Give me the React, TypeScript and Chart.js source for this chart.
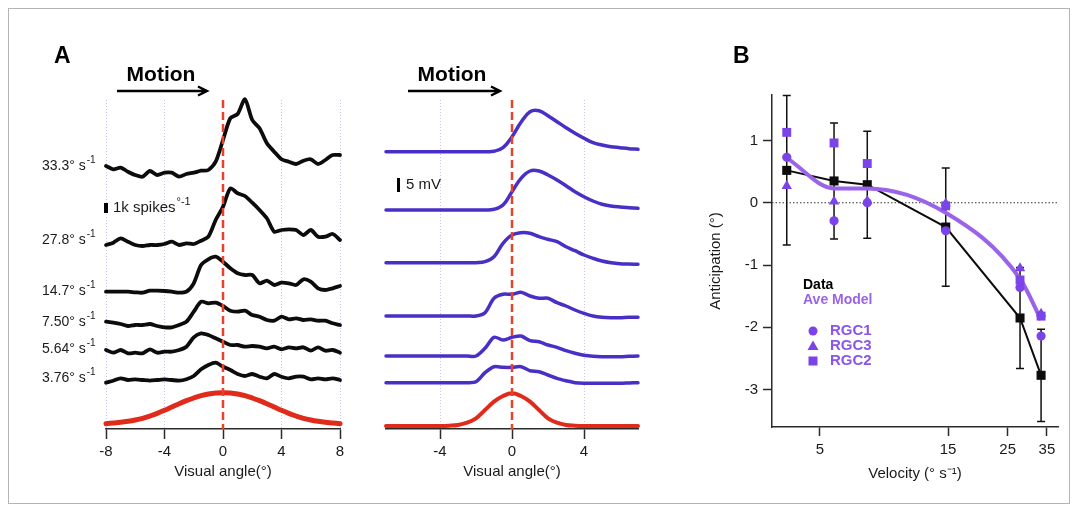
import React, { useEffect, useRef } from 'react';
import { Chart, registerables } from 'chart.js';

Chart.register(...registerables);

const FONT = '"Liberation Sans", Arial, Helvetica, sans-serif';

// ---------- Panel A, recorded responses (height above axis, display units) ----------
const recAngles = [-8, -7.5, -7, -6.5, -6, -5.5, -5, -4.5, -4, -3.5, -3, -2.5, -2, -1.5, -1, -0.5, 0, 0.5, 1, 1.5, 2, 2.5, 3, 3.5, 4, 4.5, 5, 5.5, 6, 6.5, 7, 7.5, 8];
const rec33 = [263, 259.7, 261.3, 257.3, 254, 252.3, 258, 254, 256.3, 256.3, 252.3, 255, 256.3, 258.3, 259, 267.3, 289, 310.7, 315, 329.7, 309, 300.7, 285.7, 277.3, 269.7, 267.3, 265, 268.3, 269.7, 265, 269, 274, 274];
const rec27 = [184, 186.3, 190.7, 187.3, 184, 183, 184, 184, 185, 187.3, 184, 185.7, 185, 188.3, 192.3, 209, 222.3, 240.7, 235.7, 233, 226.3, 219, 210.7, 197.3, 199, 199.7, 199, 194, 199, 192.3, 192.3, 195, 189];
const rec14 = [137.3, 137.3, 137.3, 137.3, 136.7, 136.3, 138.3, 138.3, 138, 137.3, 136.3, 137.3, 145.7, 164, 169.7, 172.3, 167.3, 160.7, 155.7, 154, 154, 145.7, 148.3, 144, 146.3, 145.7, 144, 149.7, 147.3, 140.7, 139, 140.7, 143];
const rec7 = [107.3, 106.3, 105, 103, 104, 104, 105, 103, 101.7, 101.7, 104, 107.3, 117.3, 127.3, 125.7, 126.3, 123, 118.3, 117.3, 118.3, 114, 112.3, 109, 108.3, 112.3, 109.7, 110.7, 109, 109.7, 108.3, 108.3, 105.7, 104];
const rec5 = [79, 76.3, 79, 75.7, 76.3, 75.7, 79.7, 76.3, 77.3, 77.3, 79, 82.3, 91.7, 95.7, 94, 90.7, 87.3, 84, 84, 82.3, 83, 82.3, 80.7, 82.3, 79.7, 81.7, 80.7, 81.7, 78.3, 81.7, 78.3, 79, 76.3];
const rec3 = [46.3, 48.3, 50.7, 49, 49.7, 49, 48.3, 49, 49.7, 49, 48.3, 49.7, 53, 59.7, 64, 66.3, 62.3, 59, 55, 53, 55, 52.3, 50.7, 55, 52.3, 50.7, 52.3, 52.3, 49.7, 50.7, 49.7, 50.7, 49];
const recStim = [5.3, 6, 6.7, 7.7, 9, 10.7, 13, 15.7, 18.7, 22, 25.3, 28.3, 31, 33.3, 35, 36, 36.3, 36, 35, 33.3, 31, 28.3, 25.3, 22, 18.7, 15.7, 13, 10.7, 9, 7.7, 6.7, 6, 5.3];
const recTicks = [-8, -4, 0, 4, 8];

// ---------- Panel A, model responses ----------
const modAngles = [-7, -6.5, -6, -5.5, -5, -4.5, -4, -3.5, -3, -2.5, -2, -1.5, -1, -0.5, 0, 0.5, 1, 1.5, 2, 2.5, 3, 3.5, 4, 4.5, 5, 5.5, 6, 6.5, 7];
const mod33 = [277.3, 277.3, 277.3, 277.3, 277.3, 277.3, 277.3, 277.3, 277.3, 277.3, 277.3, 277.3, 277.7, 281.3, 292.3, 306.7, 317.3, 318.3, 313.3, 307.3, 301.3, 295.7, 290.7, 286.3, 284, 282.3, 281.3, 280.3, 279.7];
const mod27 = [219, 219, 219, 219, 219, 219, 219, 219, 219, 219, 219, 219, 219.7, 224, 237.3, 250.7, 258, 258, 254, 249, 243.3, 237.3, 232.3, 228, 224.7, 223, 222, 221.3, 220.7];
const mod14 = [166.3, 166.3, 166.3, 166.3, 166.3, 166.3, 166.3, 166.3, 166.3, 166.3, 166.3, 167.3, 172.3, 185.7, 194, 196.3, 195.7, 192.3, 189.7, 187.3, 182.3, 178.3, 174, 170.7, 168, 166.3, 165.3, 165, 164.7];
const mod7 = [113, 113, 113, 113, 113, 113, 113, 113, 113, 113, 113, 116.3, 130.7, 134.7, 134.7, 136.7, 133, 130.7, 130.7, 126.3, 123, 119, 115.7, 113, 111.7, 111.3, 111.3, 111.7, 111.7];
const mod5 = [73, 73, 73, 73, 73, 73, 73, 73, 73, 73, 73, 80.7, 91.7, 89, 91.7, 93, 88.3, 87.3, 84, 81.7, 78.3, 75.7, 73.7, 72.7, 72.3, 72.3, 72.3, 72.7, 73];
const mod3 = [46.3, 46.3, 46.3, 46.3, 46.3, 46.3, 46.3, 46.3, 46.3, 46.3, 47.3, 56.3, 62.3, 61.7, 61.7, 62.3, 58.3, 57.3, 54, 50.7, 48.3, 46.3, 45.7, 45.7, 45.7, 45.7, 45.7, 46, 46.3];
const modStim = [3, 3, 3, 3, 3, 3, 3, 3.3, 4, 6.3, 10.7, 19, 27.3, 33, 35.7, 33, 27.3, 19, 10.7, 6.3, 4, 3.3, 3, 3, 3, 3, 3, 3, 3];
const modTicks = [-4, 0, 4];

const velocityLabels = ['33.3', '27.8', '14.7', '7.50', '5.64', '3.76'];

// ---------- Panel B ----------
const velocities = [3.76, 5.64, 7.5, 14.7, 27.8, 33.3];
const dataMean = [0.52, 0.35, 0.29, -0.39, -1.85, -2.77];
const dataErr = [1.2, 0.93, 0.86, 0.95, 0.81, 0.74];
const modelMean = [0.72, 0.23, 0.23, -0.16, -1.22, -1.88];
const rgc1 = [0.73, -0.29, 0.0, -0.45, -1.36, -2.14];
const rgc3 = [0.27, 0.02, 0.03, -0.01, -1.05, -1.78];
const rgc2 = [1.13, 0.96, 0.63, -0.05, -1.24, -1.82];
const velTicks = [5, 15, 25, 35];
const antTicks = [-3, -2, -1, 0, 1];

// ---------- colours ----------
const BLACK = '#0c0c0c';
const MODEL_TRACE = '#4a2fc6';
const RED = '#e02b1b';
const DASH_RED = '#e8412c';
const GRID = '#c4c4f2';
const AVE = '#9b63e8';
const RGC = '#7a44e8';
const AXIS = '#2a2a2a';

const pts = (xs: number[], ys: number[]) => xs.map((x, i) => ({ x, y: ys[i] }));

const W = 1078;
const H = 512;

function traceDs(xs: number[], ys: number[], color: string, width: number, tension: number) {
  return {
    data: pts(xs, ys),
    borderColor: color,
    borderWidth: width,
    pointRadius: 0,
    tension,
    clip: false as any,
    fill: false,
    borderCapStyle: 'round' as const,
    borderJoinStyle: 'round' as const,
  };
}

const stimLinePlugin = {
  id: 'stimLine',
  afterDatasetsDraw(chart: any) {
    const { ctx, chartArea } = chart;
    const x = chart.scales.x.getPixelForValue(0);
    ctx.save();
    ctx.strokeStyle = DASH_RED;
    ctx.lineWidth = 2.5;
    ctx.setLineDash([8, 4]);
    ctx.beginPath();
    ctx.moveTo(x, chartArea.top);
    ctx.lineTo(x, chartArea.bottom);
    ctx.stroke();
    ctx.restore();
  },
};

function supText(ctx: CanvasRenderingContext2D, base: string, sup: string, x: number, y: number, size: number, supSize: number) {
  ctx.font = `${size}px ${FONT}`;
  ctx.textBaseline = 'middle';
  ctx.textAlign = 'left';
  ctx.fillText(base, x, y);
  const w = ctx.measureText(base).width;
  ctx.font = `${supSize}px ${FONT}`;
  ctx.fillText(sup, x + w + 1, y - size * 0.42);
}

function arrow(ctx: CanvasRenderingContext2D, x1: number, x2: number, y: number) {
  ctx.save();
  ctx.strokeStyle = '#000';
  ctx.lineWidth = 2.4;
  ctx.beginPath();
  ctx.moveTo(x1, y);
  ctx.lineTo(x2, y);
  ctx.moveTo(x2 - 9, y - 4.5);
  ctx.lineTo(x2, y);
  ctx.lineTo(x2 - 9, y + 4.5);
  ctx.stroke();
  ctx.restore();
}

const decorPlugin = {
  id: 'decor',
  afterDraw(chart: any) {
    const ctx: CanvasRenderingContext2D = chart.ctx;
    ctx.save();
    // frame
    ctx.strokeStyle = '#b4b4b4';
    ctx.lineWidth = 1;
    ctx.strokeRect(8.5, 8.5, 1061, 495);
    ctx.fillStyle = '#000';
    // panel letters
    ctx.font = `bold 23px ${FONT}`;
    ctx.textBaseline = 'alphabetic';
    ctx.textAlign = 'left';
    ctx.fillText('A', 54, 63);
    ctx.fillText('B', 733, 63);
    // Motion titles
    ctx.font = `bold 21px ${FONT}`;
    ctx.textAlign = 'center';
    ctx.textBaseline = 'middle';
    ctx.fillText('Motion', 161, 75);
    ctx.fillText('Motion', 452, 75);
    arrow(ctx, 117, 207, 91);
    arrow(ctx, 408, 500, 91);
    // velocity labels
    ctx.fillStyle = '#1a1a1a';
    const ys = [166, 240, 291, 322, 349, 378];
    velocityLabels.forEach((v, i) => supText(ctx, `${v}° s`, '-1', 42, ys[i], 14, 10));
    // scale bars
    ctx.fillStyle = '#000';
    ctx.fillRect(104, 203, 4, 10);
    ctx.fillStyle = '#1a1a1a';
    supText(ctx, '1k spikes', '°-1', 113, 208, 15, 11);
    ctx.fillStyle = '#000';
    ctx.fillRect(397, 178, 3, 14);
    ctx.fillStyle = '#1a1a1a';
    ctx.font = `15px ${FONT}`;
    ctx.textAlign = 'left';
    ctx.textBaseline = 'middle';
    ctx.fillText('5 mV', 406, 185);
    ctx.restore();
  },
};

function xAxisA(min: number, max: number, ticks: number[]) {
  return {
    type: 'linear' as const,
    min,
    max,
    afterBuildTicks: (s: any) => {
      s.ticks = ticks.map((v) => ({ value: v }));
    },
    afterFit: (s: any) => {
      s.height = 54;
    },
    grid: {
      display: true,
      drawOnChartArea: true,
      drawTicks: true,
      tickLength: 10,
      color: (c: any) => (c.tick && c.tick.value === 0 ? 'rgba(0,0,0,0)' : GRID),
      lineWidth: 1,
      tickColor: AXIS,
      tickWidth: 1.5,
    },
    border: { display: true, color: AXIS, width: 1.5, dash: [1, 2] },
    ticks: { font: { family: FONT, size: 15 }, color: '#1a1a1a', padding: 4, maxRotation: 0 },
    title: { display: true, text: 'Visual angle(°)', font: { family: FONT, size: 15 }, color: '#1a1a1a', padding: { top: 0, bottom: 2 } },
  };
}

function cfgRecorded(): any {
  return {
    type: 'line',
    data: {
      datasets: [
        traceDs(recAngles, rec33, BLACK, 3.8, 0.25),
        traceDs(recAngles, rec27, BLACK, 3.8, 0.25),
        traceDs(recAngles, rec14, BLACK, 3.8, 0.25),
        traceDs(recAngles, rec7, BLACK, 3.8, 0.25),
        traceDs(recAngles, rec5, BLACK, 3.8, 0.25),
        traceDs(recAngles, rec3, BLACK, 3.8, 0.25),
        traceDs(recAngles, recStim, RED, 5, 0.4),
      ],
    },
    options: {
      responsive: false,
      animation: false,
      events: [],
      layout: { padding: { left: 106, right: W - 340, top: 100, bottom: H - 429 - 54 } },
      plugins: { legend: { display: false }, tooltip: { enabled: false } },
      scales: {
        x: xAxisA(-8, 8, recTicks),
        y: { display: false, min: 0, max: 329 },
      },
    },
    plugins: [stimLinePlugin, decorPlugin],
  };
}

function cfgModel(): any {
  return {
    type: 'line',
    data: {
      datasets: [
        traceDs(modAngles, mod33, MODEL_TRACE, 3.5, 0.4),
        traceDs(modAngles, mod27, MODEL_TRACE, 3.5, 0.4),
        traceDs(modAngles, mod14, MODEL_TRACE, 3.5, 0.4),
        traceDs(modAngles, mod7, MODEL_TRACE, 3.5, 0.3),
        traceDs(modAngles, mod5, MODEL_TRACE, 3.5, 0.3),
        traceDs(modAngles, mod3, MODEL_TRACE, 3.5, 0.3),
        traceDs(modAngles, modStim, RED, 4, 0.4),
      ],
    },
    options: {
      responsive: false,
      animation: false,
      events: [],
      layout: { padding: { left: 386, right: W - 638, top: 100, bottom: H - 429 - 54 } },
      plugins: { legend: { display: false }, tooltip: { enabled: false } },
      scales: {
        x: xAxisA(-7, 7, modTicks),
        y: { display: false, min: 0, max: 329 },
      },
    },
    plugins: [stimLinePlugin],
  };
}

const bPlugin = {
  id: 'bExtras',
  beforeDatasetsDraw(chart: any) {
    const { ctx, chartArea, scales } = chart;
    const xs = scales.x;
    const ys = scales.y;
    ctx.save();
    // zero reference line
    const y0 = ys.getPixelForValue(0);
    ctx.strokeStyle = '#333';
    ctx.lineWidth = 1;
    ctx.setLineDash([1.5, 2]);
    ctx.beginPath();
    ctx.moveTo(chartArea.left, y0);
    ctx.lineTo(chartArea.right, y0);
    ctx.stroke();
    ctx.setLineDash([]);
    // error bars
    ctx.strokeStyle = '#111';
    ctx.lineWidth = 1.5;
    velocities.forEach((v, i) => {
      const x = xs.getPixelForValue(v);
      const yt = ys.getPixelForValue(dataMean[i] + dataErr[i]);
      const yb = ys.getPixelForValue(dataMean[i] - dataErr[i]);
      ctx.beginPath();
      ctx.moveTo(x, yt);
      ctx.lineTo(x, yb);
      ctx.moveTo(x - 4, yt);
      ctx.lineTo(x + 4, yt);
      ctx.moveTo(x - 4, yb);
      ctx.lineTo(x + 4, yb);
      ctx.stroke();
    });
    ctx.restore();
  },
  afterDraw(chart: any) {
    const ctx: CanvasRenderingContext2D = chart.ctx;
    ctx.save();
    ctx.textAlign = 'left';
    ctx.textBaseline = 'middle';
    ctx.font = `bold 14px ${FONT}`;
    ctx.fillStyle = '#000';
    ctx.fillText('Data', 803, 285);
    ctx.fillStyle = AVE;
    ctx.fillText('Ave Model', 803, 300);
    ctx.font = `bold 15px ${FONT}`;
    ctx.fillStyle = '#8b55e8';
    ctx.fillText('RGC1', 830, 331);
    ctx.fillText('RGC3', 830, 346);
    ctx.fillText('RGC2', 830, 361);
    ctx.fillStyle = RGC;
    ctx.beginPath();
    ctx.arc(813, 331, 4.5, 0, Math.PI * 2);
    ctx.fill();
    ctx.beginPath();
    ctx.moveTo(813, 340.5);
    ctx.lineTo(818.5, 350);
    ctx.lineTo(807.5, 350);
    ctx.closePath();
    ctx.fill();
    ctx.fillRect(808.5, 356.5, 9, 9);
    ctx.restore();
  },
};

function cfgB(): any {
  return {
    type: 'line',
    data: {
      datasets: [
        {
          data: pts(velocities, dataMean),
          borderColor: BLACK,
          borderWidth: 2,
          pointStyle: 'rect',
          pointRadius: 6.4,
          pointBackgroundColor: BLACK,
          pointBorderWidth: 0,
          tension: 0,
          order: 5,
          clip: false,
        },
        {
          data: pts(velocities, modelMean),
          borderColor: AVE,
          borderWidth: 4,
          pointRadius: 0,
          cubicInterpolationMode: 'monotone',
          order: 4,
          clip: false,
        },
        {
          data: pts(velocities, rgc1),
          showLine: false,
          pointStyle: 'circle',
          pointRadius: 4.6,
          pointBackgroundColor: RGC,
          pointBorderWidth: 0,
          order: 3,
          clip: false,
        },
        {
          data: pts(velocities, rgc3),
          showLine: false,
          pointStyle: 'triangle',
          pointRadius: 6,
          pointBackgroundColor: RGC,
          pointBorderWidth: 0,
          order: 2,
          clip: false,
        },
        {
          data: pts(velocities, rgc2),
          showLine: false,
          pointStyle: 'rect',
          pointRadius: 6.3,
          pointBackgroundColor: RGC,
          pointBorderWidth: 0,
          order: 1,
          clip: false,
        },
      ],
    },
    options: {
      responsive: false,
      animation: false,
      events: [],
      layout: { padding: { left: 704, right: W - 1058, top: 95, bottom: H - 427 - 58 } },
      plugins: { legend: { display: false }, tooltip: { enabled: false } },
      scales: {
        x: {
          type: 'logarithmic',
          min: 3.313,
          max: 38.5,
          afterBuildTicks: (s: any) => {
            s.ticks = velTicks.map((v) => ({ value: v }));
          },
          afterFit: (s: any) => {
            s.height = 58;
          },
          grid: { display: true, drawOnChartArea: false, drawTicks: true, tickLength: 9, tickColor: AXIS, tickWidth: 1.5 },
          border: { display: true, color: AXIS, width: 1.5 },
          ticks: { font: { family: FONT, size: 15 }, color: '#1a1a1a', padding: 5, maxRotation: 0, callback: (v: any) => String(v) },
          title: { display: true, text: 'Velocity (° s⁻¹)', font: { family: FONT, size: 15 }, color: '#1a1a1a', padding: { top: 0, bottom: 2 } },
        },
        y: {
          type: 'linear',
          min: -3.6,
          max: 1.73,
          afterBuildTicks: (s: any) => {
            s.ticks = antTicks.map((v) => ({ value: v }));
          },
          afterFit: (s: any) => {
            s.width = 68;
          },
          grid: { display: true, drawOnChartArea: false, drawTicks: true, tickLength: 9, tickColor: AXIS, tickWidth: 1.5 },
          border: { display: true, color: AXIS, width: 1.5 },
          ticks: { font: { family: FONT, size: 15 }, color: '#1a1a1a', padding: 5 },
          title: { display: true, text: 'Anticipation (°)', font: { family: FONT, size: 15 }, color: '#1a1a1a', padding: { top: 3, bottom: 0 } },
        },
      },
    },
    plugins: [bPlugin],
  };
}

export default function App() {
  const r1 = useRef<HTMLCanvasElement>(null);
  const r2 = useRef<HTMLCanvasElement>(null);
  const r3 = useRef<HTMLCanvasElement>(null);

  useEffect(() => {
    const c1 = new Chart(r1.current as HTMLCanvasElement, cfgRecorded());
    const c2 = new Chart(r2.current as HTMLCanvasElement, cfgModel());
    const c3 = new Chart(r3.current as HTMLCanvasElement, cfgB());
    return () => {
      c1.destroy();
      c2.destroy();
      c3.destroy();
    };
  }, []);

  const cs: React.CSSProperties = { position: 'absolute', left: 0, top: 0, width: W, height: H };
  return (
    <div style={{ position: 'absolute', left: 0, top: 0, width: W, height: H, background: '#fff' }}>
      <canvas ref={r1} width={W} height={H} style={cs} />
      <canvas ref={r2} width={W} height={H} style={cs} />
      <canvas ref={r3} width={W} height={H} style={cs} />
    </div>
  );
}
